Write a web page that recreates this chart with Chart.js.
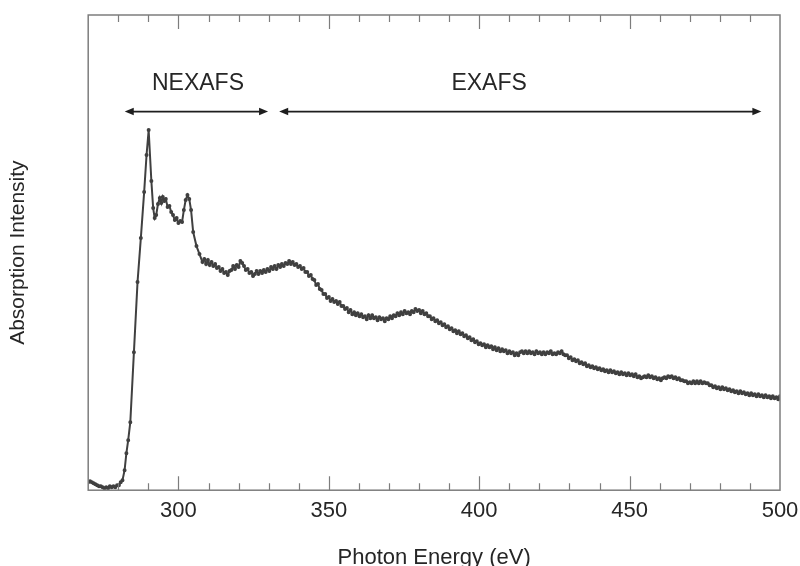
<!DOCTYPE html>
<html>
<head>
<meta charset="utf-8">
<script src="https://cdn.jsdelivr.net/npm/chart.js@4.4.1/dist/chart.umd.min.js"></script>
<style>
html,body{margin:0;padding:0;background:#fff;}
canvas{display:block;}
</style>
</head>
<body>
<canvas id="c" width="800" height="566"></canvas>
<script>
// Photon energy (eV)
const energy = [
270,270.6,271.2,271.8,272.4,273,273.6,274.2,274.8,275.4,276,276.6,277.2,277.8,278.4,279,279.6,280.2,280.8,281.4,282.1,282.7,283.3,284,
285.2,286.4,287.5,288.6,289.4,290.1,291,291.6,292.1,292.6,293.2,293.8,294.3,294.8,295.3,295.8,296.4,297,297.6,298.2,298.8,299.4,300,300.6,301.2,301.8,302.4,303,303.6,304.2,304.9,306,307,308,
308.6,309.2,309.8,310.4,311,311.6,312.2,312.8,313.4,314,314.6,315.2,315.8,316.4,317,317.6,318.2,318.8,319.4,320,320.6,321.2,321.8,322.4,323,323.6,324.2,324.8,325.4,326,326.6,327.2,327.8,328.4,329,329.6,330.2,330.8,331.4,332,332.6,333.2,333.8,334.4,335,335.6,336.2,336.8,337.4,338,338.6,339.2,339.8,340.4,341,341.6,342.2,342.8,343.4,344,344.6,345.2,345.8,346.4,347,347.6,348.2,348.8,349.4,350,350.6,351.2,351.8,352.4,353,353.6,354.2,354.8,355.4,356,356.6,357.2,357.8,358.4,359,359.6,360.2,360.8,361.4,362,362.6,363.2,363.8,364.4,365,365.6,366.2,366.8,367.4,368,368.6,369.2,369.8,370.4,371,371.6,372.2,372.8,373.4,374,374.6,375.2,375.8,376.4,377,377.6,378.2,378.8,379.4,380,380.6,381.2,381.8,382.4,383,383.6,384.2,384.8,385.4,386,386.6,387.2,387.8,388.4,389,389.6,390.2,390.8,391.4,392,392.6,393.2,393.8,394.4,395,395.6,396.2,396.8,397.4,398,398.6,399.2,399.8,400.4,401,401.6,402.2,402.8,403.4,404,404.6,405.2,405.8,406.4,407,407.6,408.2,408.8,409.4,410,410.6,411.2,411.8,412.4,413,413.6,414.2,414.8,415.4,416,416.6,417.2,417.8,418.4,419,419.6,420.2,420.8,421.4,422,422.6,423.2,423.8,424.4,425,425.6,426.2,426.8,427.4,428,428.6,429.2,429.8,430.4,431,431.6,432.2,432.8,433.4,434,434.6,435.2,435.8,436.4,437,437.6,438.2,438.8,439.4,440,440.6,441.2,441.8,442.4,443,443.6,444.2,444.8,445.4,446,446.6,447.2,447.8,448.4,449,449.6,450.2,450.8,451.4,452,452.6,453.2,453.8,454.4,455,455.6,456.2,456.8,457.4,458,458.6,459.2,459.8,460.4,461,461.6,462.2,462.8,463.4,464,464.6,465.2,465.8,466.4,467,467.6,468.2,468.8,469.4,470,470.6,471.2,471.8,472.4,473,473.6,474.2,474.8,475.4,476,476.6,477.2,477.8,478.4,
479,479.6,480.2,480.8,481.4,482,482.6,483.2,483.8,484.4,485,485.6,486.2,486.8,487.4,488,488.6,489.2,489.8,490.4,491,491.6,492.2,492.8,493.4,494,494.6,495.2,495.8,496.4,497,497.6,498.2,498.8,499.4,500
];
// Absorption intensity (arbitrary units)
const absorption = [
8,9,8,7,6,5,4,4,3,2,3,2,4,3,4,3,5,5,8,10,20,37,50,68,
138,208,252,298,335,360,309,282,272,275,286,292,287,293,289,291,283,284,278,275,270,272,267,269,268,280,290,295,291,280,258,244,236,228,
231,226,230,225,228,224,226,222,223,219,221,217,218,215,219,220,224,221,225,223,229,227,224,220,221,217,218,214,216,219,216,219,217,220,218,221,219,223,221,224,221,225,223,226,224,227,226,229,226,228,225,226,223,224,221,222,218,218,214,215,211,210,205,206,201,200,196,196,192,193,189,191,188,189,186,188,184,184,181,182,178,180,176,178,175,177,174,176,173,174,171,175,172,175,172,173,170,173,171,172,169,172,171,174,172,175,174,177,175,178,176,179,177,178,176,179,178,181,179,180,177,179,176,177,174,174,171,172,169,170,167,168,165,166,163,164,161,162,159,160,157,159,156,157,154,155,152,153,150,151,148,149,146,147,145,146,143,145,143,144,141,143,140,142,139,141,139,140,137,139,137,138,135,137,135,138,139,137,139,137,139,137,138,136,139,137,138,136,138,136,138,137,139,136,137,136,138,137,139,136,135,135,132,133,130,131,129,130,127,128,126,127,124,125,123,124,122,123,121,122,120,121,119,120,118,120,118,119,117,118,116,118,116,117,115,117,115,116,114,116,113,114,112,113,114,113,115,113,114,112,113,111,112,110,112,113,112,114,113,114,112,113,111,112,110,110,109,109,107,108,107,109,107,109,107,109,107,108,107,107,105,105,103,104,
102,103,101,103,101,102,100,101,99,100,98,99,97,99,97,98,96,97,95,97,95,96,94,96,94,95,93,95,93,94,92,94,92,93,91,94
];
// Spectral region annotations (energy ranges in eV)
const regionLabels = ['NEXAFS', 'EXAFS'];
const regionFrom = [282.15, 333.5];
const regionTo = [329.8, 493.8];
const regionLabelAt = [306.5, 403.3];

const FONT = '"Liberation Sans", Arial, Helvetica, sans-serif';
const TXT = '#262626';

const decor = {
  id: 'decor',
  afterDatasetsDraw(chart) {
    const {ctx, chartArea: a, scales: {x, y}} = chart;
    ctx.save();
    ctx.strokeStyle = '#7d7d7d';
    ctx.lineWidth = 1.5;
    ctx.strokeRect(a.left, a.top, a.right - a.left, a.bottom - a.top);
    ctx.lineWidth = 1.2;
    ctx.beginPath();
    x.ticks.forEach(t => {
      const px = Math.round(x.getPixelForValue(t.value)) + 0.5;
      if (px <= a.left + 1 || px >= a.right - 1) return;
      const len = (t.value % 50 === 0) ? 14 : 7;
      ctx.moveTo(px, a.bottom); ctx.lineTo(px, a.bottom - len);
      ctx.moveTo(px, a.top); ctx.lineTo(px, a.top + len);
    });
    ctx.stroke();
    const ay = y.getPixelForValue(378.5);
    const ty = y.getPixelForValue(406);
    ctx.strokeStyle = '#1e1e1e';
    ctx.lineWidth = 1.8;
    const head = (px, dir) => {
      ctx.fillStyle = '#1e1e1e';
      ctx.beginPath();
      ctx.moveTo(px, ay);
      ctx.lineTo(px - dir * 9, ay - 3.8);
      ctx.lineTo(px - dir * 9, ay + 3.8);
      ctx.closePath();
      ctx.fill();
    };
    for (let i = 0; i < regionLabels.length; i++) {
      const x1 = x.getPixelForValue(regionFrom[i]);
      const x2 = x.getPixelForValue(regionTo[i]);
      ctx.beginPath();
      ctx.moveTo(x1 + 4, ay); ctx.lineTo(x2 - 4, ay);
      ctx.stroke();
      head(x1, -1); head(x2, 1);
      ctx.font = '23px ' + FONT;
      ctx.fillStyle = TXT;
      ctx.textAlign = 'center';
      ctx.textBaseline = 'middle';
      ctx.fillText(regionLabels[i], x.getPixelForValue(regionLabelAt[i]), ty);
    }
    ctx.restore();
  }
};

new Chart(document.getElementById('c'), {
  type: 'line',
  data: {
    datasets: [{
      data: energy.map((e, i) => ({x: e, y: absorption[i]})),
      borderColor: '#404040',
      backgroundColor: '#404040',
      borderWidth: 2,
      pointRadius: 1,
      pointHoverRadius: 1,
      tension: 0,
      fill: false
    }]
  },
  options: {
    responsive: false,
    animation: false,
    layout: {padding: {top: 15, right: 20, bottom: 0, left: 0}},
    plugins: {legend: {display: false}, tooltip: {enabled: false}},
    scales: {
      x: {
        type: 'linear', min: 270, max: 500,
        afterFit(scale) { scale.paddingLeft = 0; scale.paddingRight = 0; },
        grid: {display: false, drawTicks: false},
        border: {display: false},
        ticks: {
          stepSize: 10, autoSkip: false, maxRotation: 0, padding: 8,
          color: TXT, font: {size: 22, family: FONT},
          callback: v => (v % 50 === 0 ? String(v) : '')
        },
        title: {display: true, text: 'Photon Energy (eV)', color: TXT,
                font: {size: 22, family: FONT}, padding: {top: 12, bottom: -5}}
      },
      y: {
        min: 0, max: 475,
        grid: {display: false, drawTicks: false},
        border: {display: false},
        ticks: {display: false},
        title: {display: true, text: 'Absorption Intensity', color: TXT,
                font: {size: 21, family: FONT}, padding: {top: 6, bottom: 57}}
      }
    }
  },
  plugins: [decor]
});
</script>
</body>
</html>
